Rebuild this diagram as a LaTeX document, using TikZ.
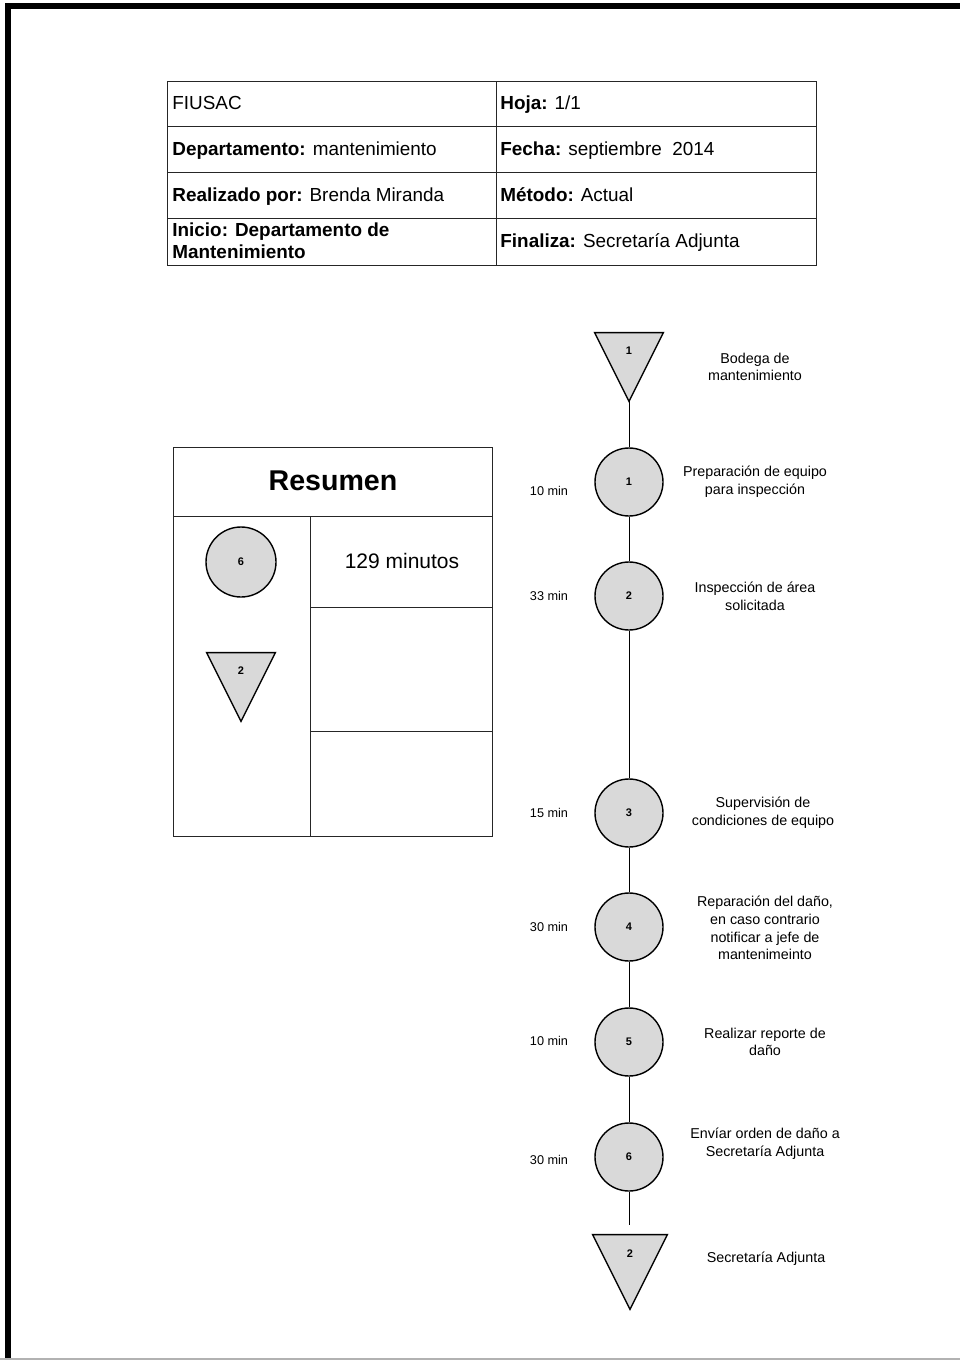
\documentclass[tikz,border=0pt]{standalone}
\usepackage{fontspec}
\setmainfont{Liberation Sans}
\usetikzlibrary{positioning}

\begin{document}
\begin{tikzpicture}[x=0.5pt, y=-0.5pt,
    operacion/.style={circle, draw, line width=0.7pt, fill=gray!30, minimum size=34pt, inner sep=0pt, font=\fontsize{5.5}{6}\selectfont\bfseries},
    almacen/.style={minimum width=34pt, minimum height=34pt, inner sep=0pt},
    triangulo/.style={fill=gray!30, draw, line width=0.7pt, line join=miter},
    numero/.style={inner sep=0pt, font=\fontsize{5.5}{6}\selectfont\bfseries},
    tiempo/.style={font=\fontsize{6.35}{8}\selectfont},
    desc/.style={align=center, font=\fontsize{7.15}{8.8}\selectfont},
    celda/.style={anchor=west, align=left, inner sep=0pt, font=\fontsize{9.45}{11}\selectfont},
    linea/.style={text height=7pt, text depth=2pt}]
    \useasboundingbox (0,0) rectangle (960,1360);

    % Page frame
    \draw[line width=3pt] (8,1360) -- (8,6) -- (960,6);
    \draw[gray!60, line width=0.8pt] (0,1359) -- (960,1359);

    % Header table
    \draw[black!85, line width=0.5pt] (167,81) rectangle (816,265);
    \draw[black!85, line width=0.5pt] (496,81) -- (496,265);
    \foreach \y in {126,172,218}
        \draw[black!85, line width=0.5pt] (167,\y) -- (816,\y);
    \node[celda, linea] (fiusac) at (172,104) {FIUSAC};
    \node[celda, linea] (hoja) at (500,104) {\textbf{Hoja:} 1/1};
    \node[celda, linea] (depto) at (172,150) {\textbf{Departamento:} mantenimiento};
    \node[celda, linea] (fecha) at (500,150) {\textbf{Fecha:} septiembre\ \ 2014};
    \node[celda, linea] (autor) at (172,196) {\textbf{Realizado por:} Brenda Miranda};
    \node[celda, linea] (metodo) at (500,196) {\textbf{Método:} Actual};
    \node[celda] (inicio) at (172,241) {\textbf{Inicio: Departamento de}\\\textbf{Mantenimiento}};
    \node[celda, linea] (finaliza) at (500,242) {\textbf{Finaliza:} Secretaría Adjunta};

    % Summary box
    \draw[black!85, line width=0.5pt] (173,447) rectangle (492,836);
    \draw[black!85, line width=0.5pt] (173,516) -- (492,516);
    \draw[black!85, line width=0.5pt] (310,516) -- (310,836);
    \draw[black!85, line width=0.5pt] (310,607) -- (492,607);
    \draw[black!85, line width=0.5pt] (310,731) -- (492,731);
    \node[font=\fontsize{14.3}{16}\selectfont\bfseries] (resumen) at (333,481) {Resumen};
    \node[font=\fontsize{10.5}{12}\selectfont] (total) at (402,561) {129 minutos};
    \node[operacion, minimum size=35pt] (rop) at (241,562) {6};
    \node[almacen] (ralm) at (241,687) {};
    \filldraw[triangulo] (ralm.north west) -- (ralm.north east) -- (ralm.south) -- cycle;
    \node[numero] (ralmnum) at ([yshift=-9pt]ralm.north) {2};

    % Process column
    \node[almacen] (b1) at (629,367) {};
    \filldraw[triangulo] (b1.north west) -- (b1.north east) -- (b1.south) -- cycle;
    \node[numero] (b1num) at ([yshift=-9pt]b1.north) {1};

    \node[operacion] (op1) at (629,482) {1};
    \node[operacion] (op2) at (629,596) {2};
    \node[operacion] (op3) at (629,813) {3};
    \node[operacion] (op4) at (629,927) {4};
    \node[operacion] (op5) at (629,1042) {5};
    \node[operacion] (op6) at (629,1157) {6};
    \coordinate (final) at (629,1225);

    \node[almacen, minimum width=37pt, minimum height=37pt] (b2) at (630,1272) {};
    \filldraw[triangulo] (b2.north west) -- (b2.north east) -- (b2.south) -- cycle;
    \node[numero] (b2num) at ([yshift=-9.5pt]b2.north) {2};

    % Times
    \node[tiempo] (t1) at (549,491) {10 min};
    \node[tiempo] (t2) at (549,596) {33 min};
    \node[tiempo] (t3) at (549,813) {15 min};
    \node[tiempo] (t4) at (549,927) {30 min};
    \node[tiempo] (t5) at (549,1041) {10 min};
    \node[tiempo] (t6) at (549,1160) {30 min};

    % Descriptions
    \node[desc] (d0) at (755,367) {Bodega de\\mantenimiento};
    \node[desc] (d1) at (755,482) {Preparación de equipo\\para inspección};
    \node[desc] (d2) at (755,596) {Inspección de área\\solicitada};
    \node[desc] (d3) at (763,813) {Supervisión de\\condiciones de equipo};
    \node[desc] (d4) at (765,928) {Reparación del daño,\\en caso contrario\\notificar a jefe de\\mantenimeinto};
    \node[desc] (d5) at (765,1042) {Realizar reporte de\\daño};
    \node[desc] (d6) at (765,1144) {Envíar orden de daño a\\Secretaría Adjunta};
    \node[desc] (d7) at (766,1259) {Secretaría Adjunta};

    % Connectors
    \draw[line width=0.5pt] (b1.south) -- (op1);
    \draw[line width=0.5pt] (op1) -- (op2);
    \draw[line width=0.5pt] (op2) -- (op3);
    \draw[line width=0.5pt] (op3) -- (op4);
    \draw[line width=0.5pt] (op4) -- (op5);
    \draw[line width=0.5pt] (op5) -- (op6);
    \draw[line width=0.5pt] (op6) -- (final);
\end{tikzpicture}
\end{document}
